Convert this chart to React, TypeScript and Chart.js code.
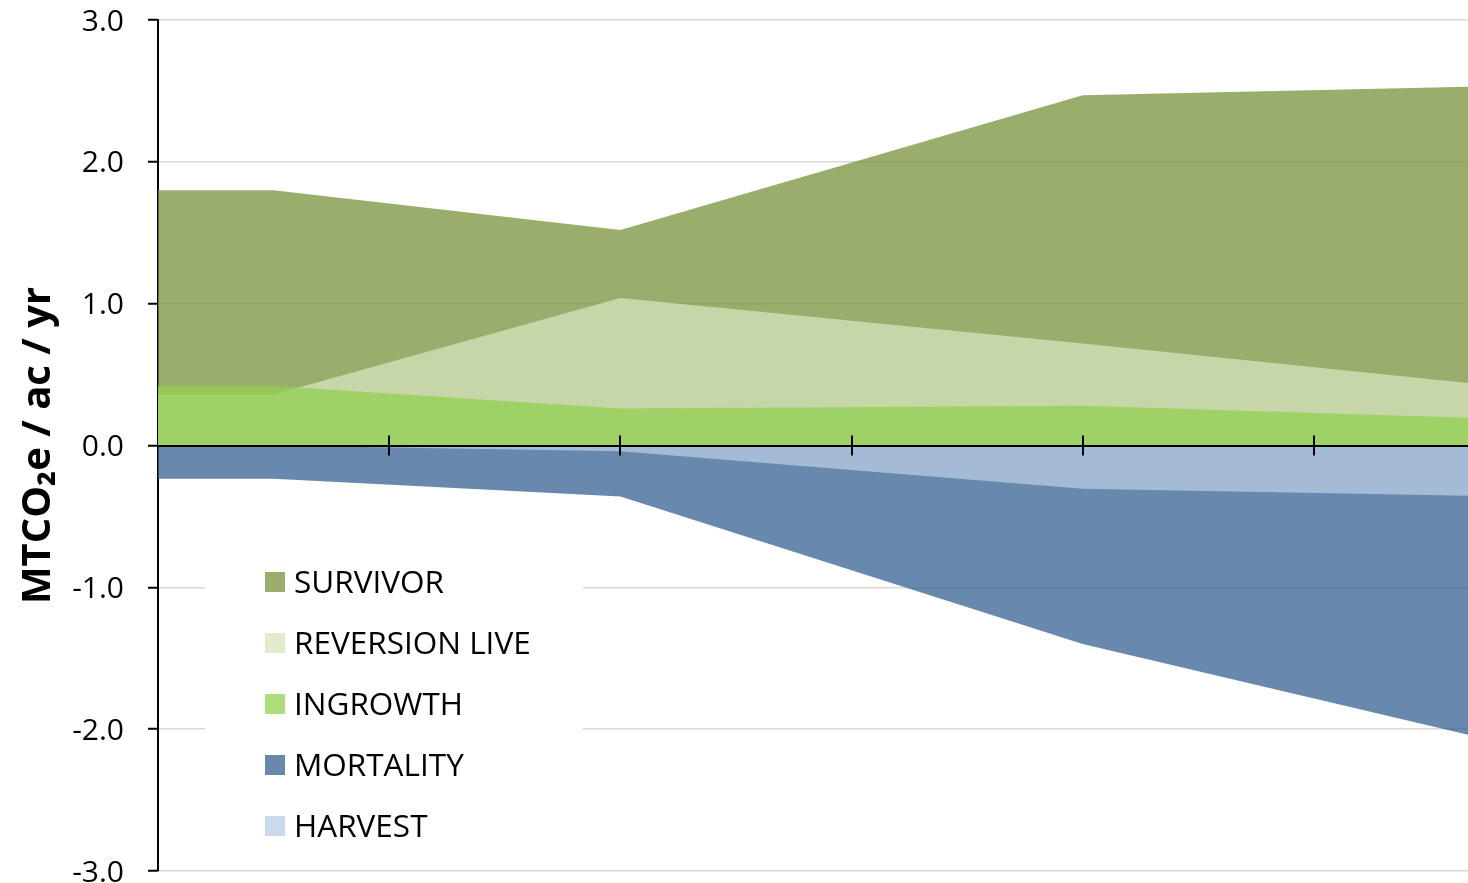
import React, { useEffect, useRef } from "react";
import { Chart, registerables } from "chart.js";

Chart.register(...registerables);

// ---- data ----
const seriesLabels = ["SURVIVOR", "REVERSION LIVE", "INGROWTH", "MORTALITY", "HARVEST"];
const xValues = [0, 7.5, 30, 60, 85];
const survivor = [1.8, 1.8, 1.52, 2.47, 2.53];
const reversionLive = [0.36, 0.36, 1.04, 0.72, 0.44];
const ingrowth = [0.42, 0.42, 0.26, 0.28, 0.195];
const mortality = [-0.235, -0.235, -0.36, -1.4, -2.04];
const harvest = [0, 0, -0.04, -0.305, -0.355];
const yAxisTitle = "MTCO\u2082e / ac / yr";

const seriesColors = [
  "rgba(119,147,60,0.75)",
  "rgba(215,228,189,0.75)",
  "rgba(146,208,80,0.75)",
  "rgba(54,96,146,0.75)",
  "rgba(184,204,228,0.75)",
];

const FONT = "'Open Sans', 'Noto Sans', sans-serif";

const crossTicksPlugin = {
  id: "crossTicks",
  afterDraw(chart: any) {
    const xs = chart.scales.x;
    const ys = chart.scales.y;
    const ctx = chart.ctx;
    const y0 = ys.getPixelForValue(0);
    ctx.save();
    ctx.strokeStyle = "#000";
    ctx.lineWidth = 2;
    // zero line on top of the areas
    ctx.beginPath();
    ctx.moveTo(chart.chartArea.left, Math.round(y0));
    ctx.lineTo(chart.chartArea.right, Math.round(y0));
    ctx.stroke();
    xs.ticks.forEach((t: any) => {
      if (t.value <= xs.min || t.value >= xs.max) return;
      const px = Math.round(xs.getPixelForValue(t.value));
      ctx.beginPath();
      ctx.moveTo(px, y0 - 10);
      ctx.lineTo(px, y0 + 10);
      ctx.stroke();
    });
    ctx.restore();
  },
};

const insideLegendPlugin = {
  id: "insideLegend",
  afterDraw(chart: any) {
    const ctx = chart.ctx;
    const area = chart.chartArea;
    const boxLeft = area.left + 47;
    const boxRight = area.left + 425;
    const top = 548;
    const bottom = 858;
    ctx.save();
    ctx.fillStyle = "#fff";
    ctx.fillRect(boxLeft, top, boxRight - boxLeft, bottom - top);
    const datasets = chart.data.datasets;
    ctx.font = `31.5px ${FONT}`;
    ctx.textBaseline = "alphabetic";
    ctx.textAlign = "left";
    datasets.forEach((ds: any, i: number) => {
      const sy = 572 + i * 61;
      const sx = area.left + 107;
      ctx.fillStyle = ds.backgroundColor;
      ctx.fillRect(sx, sy, 20, 20);
      ctx.fillStyle = "#000";
      ctx.fillText(ds.label, sx + 29, sy + 21);
    });
    ctx.restore();
  },
};

export default function App() {
  const canvasRef = useRef<HTMLCanvasElement | null>(null);

  useEffect(() => {
    if (!canvasRef.current) return;
    const series = [survivor, reversionLive, ingrowth, mortality, harvest];
    const datasets = series.map((vals, i) => ({
      label: seriesLabels[i],
      data: vals.map((v, j) => ({ x: xValues[j], y: v })),
      backgroundColor: seriesColors[i],
      borderColor: "transparent",
      borderWidth: 0,
      pointRadius: 0,
      pointHoverRadius: 0,
      fill: "origin",
      tension: 0,
      order: 5 - i,
    }));

    const chart = new Chart(canvasRef.current, {
      type: "line",
      data: { datasets },
      options: {
        animation: false,
        responsive: false,
        maintainAspectRatio: false,
        events: [],
        layout: { padding: { top: 20, bottom: 12, left: 0, right: 0 } },
        plugins: {
          legend: { display: false },
          tooltip: { enabled: false },
        },
        scales: {
          x: {
            type: "linear",
            position: { y: 0 },
            min: 0,
            max: 85,
            ticks: { display: false, stepSize: 15 },
            grid: { display: true, drawOnChartArea: false, drawTicks: false },
            border: { display: true, color: "#000", width: 2, z: 1 },
          },
          y: {
            type: "linear",
            position: "left",
            min: -3,
            max: 3,
            ticks: {
              stepSize: 1,
              padding: 24,
              labelOffset: 2,
              color: "#000",
              font: { family: FONT, size: 30 },
              callback: (v: any) => Number(v).toFixed(1),
            },
            grid: {
              color: (c: any) => (c.tick && c.tick.value === 0 ? "rgba(0,0,0,0)" : "#D9D9D9"),
              lineWidth: 1.5,
              tickColor: "#000",
              tickLength: 10,
              tickWidth: 2,
            },
            border: { display: true, color: "#000", width: 2 },
            title: {
              display: true,
              text: yAxisTitle,
              color: "#000",
              font: { family: FONT, size: 40, weight: "bold" },
              padding: { top: 15, bottom: 0 },
            },
            afterFit: (scale: any) => {
              scale.width = 158;
              scale.paddingTop = 0;
              scale.paddingBottom = 0;
            },
          },
        },
      },
      plugins: [crossTicksPlugin, insideLegendPlugin],
    });
    return () => chart.destroy();
  }, []);

  return (
    <div style={{ position: "fixed", left: 0, top: 0, width: 1468, height: 883, background: "#fff" }}>
      <canvas ref={canvasRef} width={1468} height={883} style={{ display: "block" }} />
    </div>
  );
}
